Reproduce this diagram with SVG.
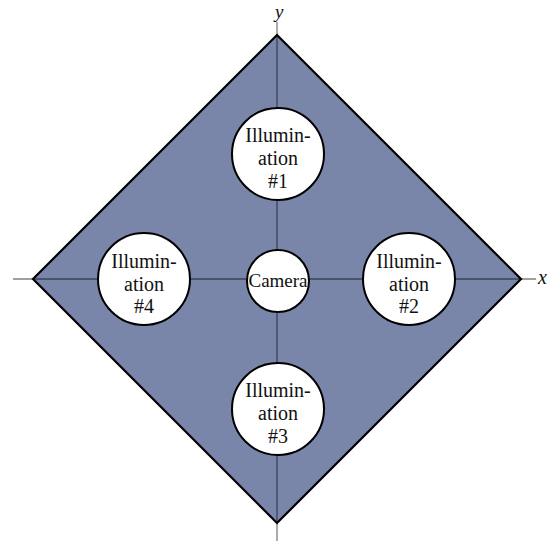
<svg xmlns="http://www.w3.org/2000/svg" width="552" height="541" viewBox="0 0 552 541">
<style>
.node circle{fill:#fff;stroke:#000;stroke-width:2}
.t{font-family:'Liberation Serif','DejaVu Serif',serif;font-size:20px;fill:#111;text-anchor:middle}
.ax{stroke:#000;stroke-opacity:0.5;stroke-width:1.3}
.lab{font-family:'Liberation Serif','DejaVu Serif',serif;font-size:20px;font-style:italic;fill:#111}
</style>
<rect width="552" height="541" fill="#fff"/>
<g id="plate">
<polygon points="277,35 521,279 277,523 33,279" fill="#7985a9" stroke="#000" stroke-width="2.2" stroke-linejoin="miter"/>
</g>
<g id="connectors">
<line class="ax" x1="13" y1="279" x2="536" y2="279"/>
<line class="ax" x1="277" y1="22" x2="277" y2="541"/>
</g>
<g id="axis-labels">
<text class="lab" x="538" y="284">x</text>
<text class="lab" x="275" y="18" style="font-size:19px">y</text>
</g>
<g id="illum1" class="node">
<circle cx="278" cy="154" r="46"/>
<text class="t" x="278" y="142">Illumin-</text>
<text class="t" x="278" y="165">ation</text>
<text class="t" x="278" y="188">#1</text>
</g>
<g id="illum2" class="node">
<circle cx="409" cy="279" r="46"/>
<text class="t" x="409" y="268">Illumin-</text>
<text class="t" x="409" y="291">ation</text>
<text class="t" x="409" y="313">#2</text>
</g>
<g id="illum3" class="node">
<circle cx="278" cy="409" r="46"/>
<text class="t" x="278" y="397">Illumin-</text>
<text class="t" x="278" y="420">ation</text>
<text class="t" x="278" y="443">#3</text>
</g>
<g id="illum4" class="node">
<circle cx="144" cy="279" r="46"/>
<text class="t" x="144" y="268">Illumin-</text>
<text class="t" x="144" y="291">ation</text>
<text class="t" x="144" y="313">#4</text>
</g>
<g id="camera" class="node">
<circle cx="278" cy="281" r="31"/>
<text class="t" x="278" y="287" style="font-size:19px">Camera</text>
</g>
</svg>
